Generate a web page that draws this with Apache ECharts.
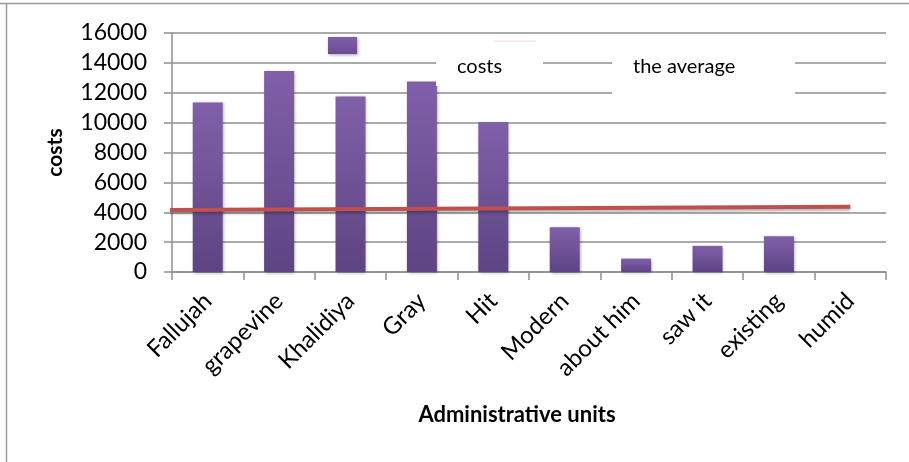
<!DOCTYPE html>
<html>
<head>
<meta charset="utf-8">
<script src="https://cdn.jsdelivr.net/npm/echarts@6/dist/echarts.min.js"></script>
<style>
  html, body { margin: 0; padding: 0; background: #fff; }
  #chart { width: 909px; height: 462px; }
</style>
</head>
<body>
<div id="chart"></div>
<script>
// Administrative units and their costs
const categories = ['Fallujah', 'grapevine', 'Khalidiya', 'Gray', 'Hit', 'Modern', 'about him', 'saw it', 'existing', 'humid'];
const costs = [11350, 13450, 11750, 12750, 10050, 3000, 900, 1750, 2400, 0];

// The average line: its two end points (position along the units, cost)
const averageX = [-0.65, 9];
const averageY = [4150, 4370];

const yTicks = { min: 0, max: 16000, interval: 2000 };

const FONT = 'Lato, "Open Sans", sans-serif';
const gridColor = '#8f8f8f';

const barFill = new echarts.graphic.LinearGradient(0, 0, 0, 1, [
  { offset: 0, color: '#8060a9' },
  { offset: 1, color: '#5d4483' }
]);

const chart = echarts.init(document.getElementById('chart'), null, { renderer: 'canvas' });

chart.setOption({
  animation: false,
  backgroundColor: '#ffffff',
  grid: { left: 172, right: 23, top: 33, bottom: 190, containLabel: false },
  xAxis: [
    {
      type: 'category',
      data: categories,
      boundaryGap: true,
      axisLine: { show: true, onZero: false, lineStyle: { color: gridColor, width: 1.5 } },
      axisTick: { show: true, length: 8, lineStyle: { color: gridColor, width: 1.5 } },
      axisLabel: {
        rotate: 45,
        margin: 25,
        interval: 0,
        color: '#000',
        fontFamily: FONT,
        fontSize: 24
      },
      name: 'Administrative units',
      nameLocation: 'middle',
      nameGap: 132,
      nameTextStyle: {
        color: '#000',
        fontFamily: FONT,
        fontWeight: 'bold',
        fontSize: 22,
        padding: [0, 24, 0, 0]
      }
    },
    {
      type: 'value',
      min: -0.5,
      max: 9.5,
      show: false
    }
  ],
  yAxis: {
    type: 'value',
    min: yTicks.min,
    max: yTicks.max,
    interval: yTicks.interval,
    axisLine: { show: true, onZero: false, lineStyle: { color: gridColor, width: 1.5 } },
    axisTick: { show: true, length: 8, lineStyle: { color: gridColor, width: 1.5 } },
    splitLine: { show: true, lineStyle: { color: gridColor, width: 1.5 } },
    axisLabel: {
      margin: 25,
      color: '#000',
      fontFamily: FONT,
      fontSize: 23,
      formatter: (v) => String(v)
    },
    name: 'costs',
    nameLocation: 'middle',
    nameGap: 106,
    nameRotate: 90,
    nameTextStyle: {
      color: '#000',
      fontFamily: FONT,
      fontWeight: 'bold',
      fontSize: 21
    }
  },
  series: [
    {
      name: 'costs',
      type: 'bar',
      data: costs,
      barWidth: '42%',
      itemStyle: {
        color: barFill,
        shadowColor: 'rgba(0,0,0,0.35)',
        shadowBlur: 3,
        shadowOffsetX: 1,
        shadowOffsetY: 1
      },
      z: 2
    },
    {
      name: 'the average',
      type: 'line',
      xAxisIndex: 1,
      data: averageX.map((x, i) => [x, averageY[i]]),
      symbol: 'none',
      clip: false,
      lineStyle: {
        color: '#c0504d',
        width: 4,
        shadowColor: 'rgba(0,0,0,0.3)',
        shadowBlur: 3,
        shadowOffsetY: 2
      },
      z: 3
    }
  ],
  graphic: [
    // chart frame
    { type: 'line', shape: { x1: 0, y1: 3.5, x2: 909, y2: 3.5 }, style: { stroke: '#9a9a9a', lineWidth: 1.5 }, z: 50 },
    { type: 'line', shape: { x1: 6.5, y1: 3, x2: 6.5, y2: 462 }, style: { stroke: '#9a9a9a', lineWidth: 1.5 }, z: 50 },
    // legend
    {
      type: 'rect',
      shape: { x: 328, y: 37, width: 29, height: 17 },
      style: {
        fill: new echarts.graphic.LinearGradient(0, 0, 0, 1, [
          { offset: 0, color: '#8060a9' },
          { offset: 1, color: '#6a4d92' }
        ]),
        shadowColor: 'rgba(0,0,0,0.35)', shadowBlur: 3, shadowOffsetX: 1, shadowOffsetY: 1
      },
      z: 100
    },
    { type: 'rect', shape: { x: 436, y: 40, width: 107, height: 46 }, style: { fill: '#fff' }, z: 100 },
    { type: 'rect', shape: { x: 612, y: 40, width: 183, height: 60 }, style: { fill: '#fff' }, z: 100 },
    { type: 'line', shape: { x1: 494, y1: 41, x2: 536, y2: 41 }, style: { stroke: '#f2d6d6', lineWidth: 1 }, z: 101 },
    {
      type: 'text', x: 457, y: 67, z: 102,
      style: { text: 'costs', fill: '#000', font: '20px ' + FONT, textVerticalAlign: 'middle', verticalAlign: 'middle' }
    },
    {
      type: 'text', x: 633, y: 67, z: 102,
      style: { text: 'the average', fill: '#000', font: '20px ' + FONT, textVerticalAlign: 'middle', verticalAlign: 'middle' }
    }
  ]
});
</script>
</body>
</html>
